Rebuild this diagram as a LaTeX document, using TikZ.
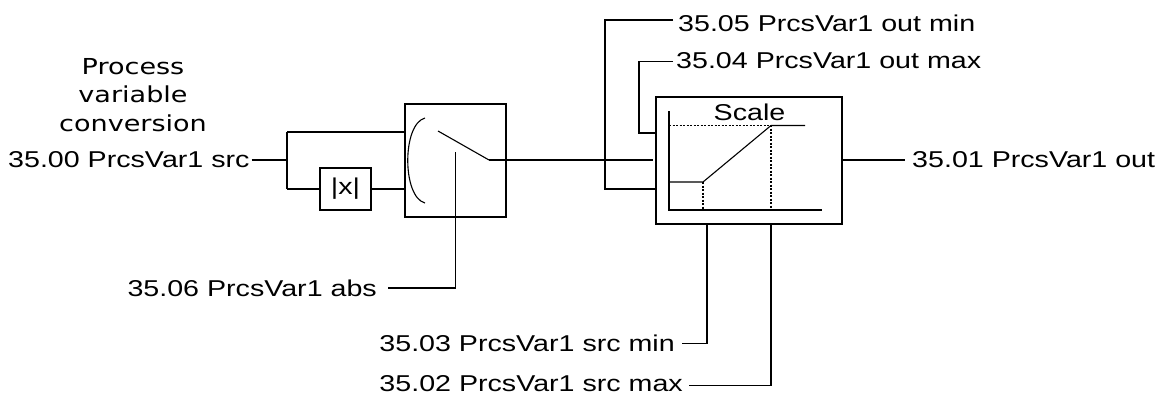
\documentclass[tikz,border=0pt]{standalone}
\usepackage{fontspec}
\setmainfont[FakeStretch=1.25]{Liberation Sans}
\newfontfamily\titlefont[FakeStretch=1.23]{DejaVu Sans}
\tikzset{
    blockbox/.style={draw, line width=1.1pt, inner sep=0pt},
    paramlabel/.style={inner sep=0pt, font=\fontsize{22.9pt}{24pt}\selectfont},
    wire/.style={line width=1.1pt},
    guide/.style={line width=1.1pt, dash pattern=on 2pt off 1.5pt},
}
\begin{document}
\begin{tikzpicture}[x=1pt, y=-1pt, line join=miter]
\useasboundingbox (0,0) rectangle (1158,394);

% Title and input
\node[align=center, inner sep=0pt, font=\titlefont\fontsize{22pt}{28.5pt}\selectfont] (title) at (133,95)
    {Process\\variable\\conversion};
\node[paramlabel, anchor=west] (srcin) at (8,160) {35.00 PrcsVar1 src};
\coordinate (fork) at (287,160);
\coordinate (forkup) at (287,132);
\coordinate (forkdown) at (287,189);

% Selector block
\node[blockbox, minimum width=51pt, minimum height=42pt] (absbox) at (345.5,189) {\fontsize{22.9pt}{24pt}\selectfont |x|};
\node[blockbox, minimum width=101pt, minimum height=113pt] (selbox) at (455.5,160.5) {};
\coordinate (selup) at (selbox.west |- forkup);
\coordinate (seldown) at (selbox.west |- forkdown);
\draw[wire, line width=1.8pt] (srcin.east) ++(2,0) -- (fork);
\draw[wire] (forkup) -- (forkdown);
\draw[wire] (forkup) -- (selup);
\draw[wire] (forkdown) -- (absbox);
\draw[wire] (absbox) -- (seldown);

% Switch inside the selector
\coordinate (arctop) at (425,118);
\coordinate (arcbot) at (425,203);
\coordinate (swfree) at (438,131);
\coordinate (swpivot) at (489,160);
\coordinate (levertop) at (455.5,152);
\coordinate (leverbot) at (455.5,288);
\coordinate (absend) at (388,288);
\draw[wire] (arctop) .. controls (402,124) and (402,197) .. (arcbot);
\draw[wire] (swfree) -- (swpivot);
\node[paramlabel, anchor=east] (abslabel) at (377,288) {35.06 PrcsVar1 abs};
\draw[wire] (levertop) -- (leverbot) -- (absend);

% Scale block
\node[blockbox, minimum width=186pt, minimum height=127pt] (scalebox) at (749,160.5) {};
\node[paramlabel, anchor=base] (scaletitle) at (749.5,120) {Scale};
\coordinate (scalein) at (653,160);
\draw[wire] (swpivot) -- (scalein);

% Curve inside the scale block
\coordinate (axistop) at (669,111);
\coordinate (origin) at (669,210);
\coordinate (axisend) at (822,210);
\coordinate (lowstart) at (669,182);
\coordinate (lowknee) at (703,182);
\coordinate (highknee) at (771,125.5);
\coordinate (highend) at (805,125.5);
\draw[wire] (axistop) -- (origin) -- (axisend);
\draw[wire] (lowstart) -- (lowknee) -- (highknee) -- (highend);
\draw[guide] (669,125.5) -- (highknee) -- (771,210);
\draw[guide] (lowknee) -- (703,210);

% Limit inputs on the left
\node[paramlabel, anchor=west] (outmin) at (678,23) {35.05 PrcsVar1 out min};
\node[paramlabel, anchor=west] (outmax) at (676,61) {35.04 PrcsVar1 out max};
\coordinate (outminend) at (673,20);
\coordinate (outmaxend) at (673,61.5);
\draw[wire] (outminend) -- (605,20) -- (605,189) -- (scalebox.west |- 605,189);
\draw[wire] (outmaxend) -- (639,61.5) -- (639,133) -- (scalebox.west |- 639,133);

% Output
\node[paramlabel, anchor=west] (scaleout) at (912,160) {35.01 PrcsVar1 out};
\coordinate (scaleoutend) at (905,160);
\draw[wire] (scalebox.east |- scaleoutend) -- (scaleoutend);

% Limit inputs below
\node[paramlabel, anchor=east] (srcmin) at (675,343) {35.03 PrcsVar1 src min};
\node[paramlabel, anchor=east] (srcmax) at (683,383.5) {35.02 PrcsVar1 src max};
\coordinate (srcminend) at (682,343.7);
\coordinate (srcmaxend) at (689,385.7);
\draw[wire] (srcminend) -- (707,343.7) -- (707,224);
\draw[wire] (srcmaxend) -- (771,385.7) -- (771,224);

\end{tikzpicture}
\end{document}
